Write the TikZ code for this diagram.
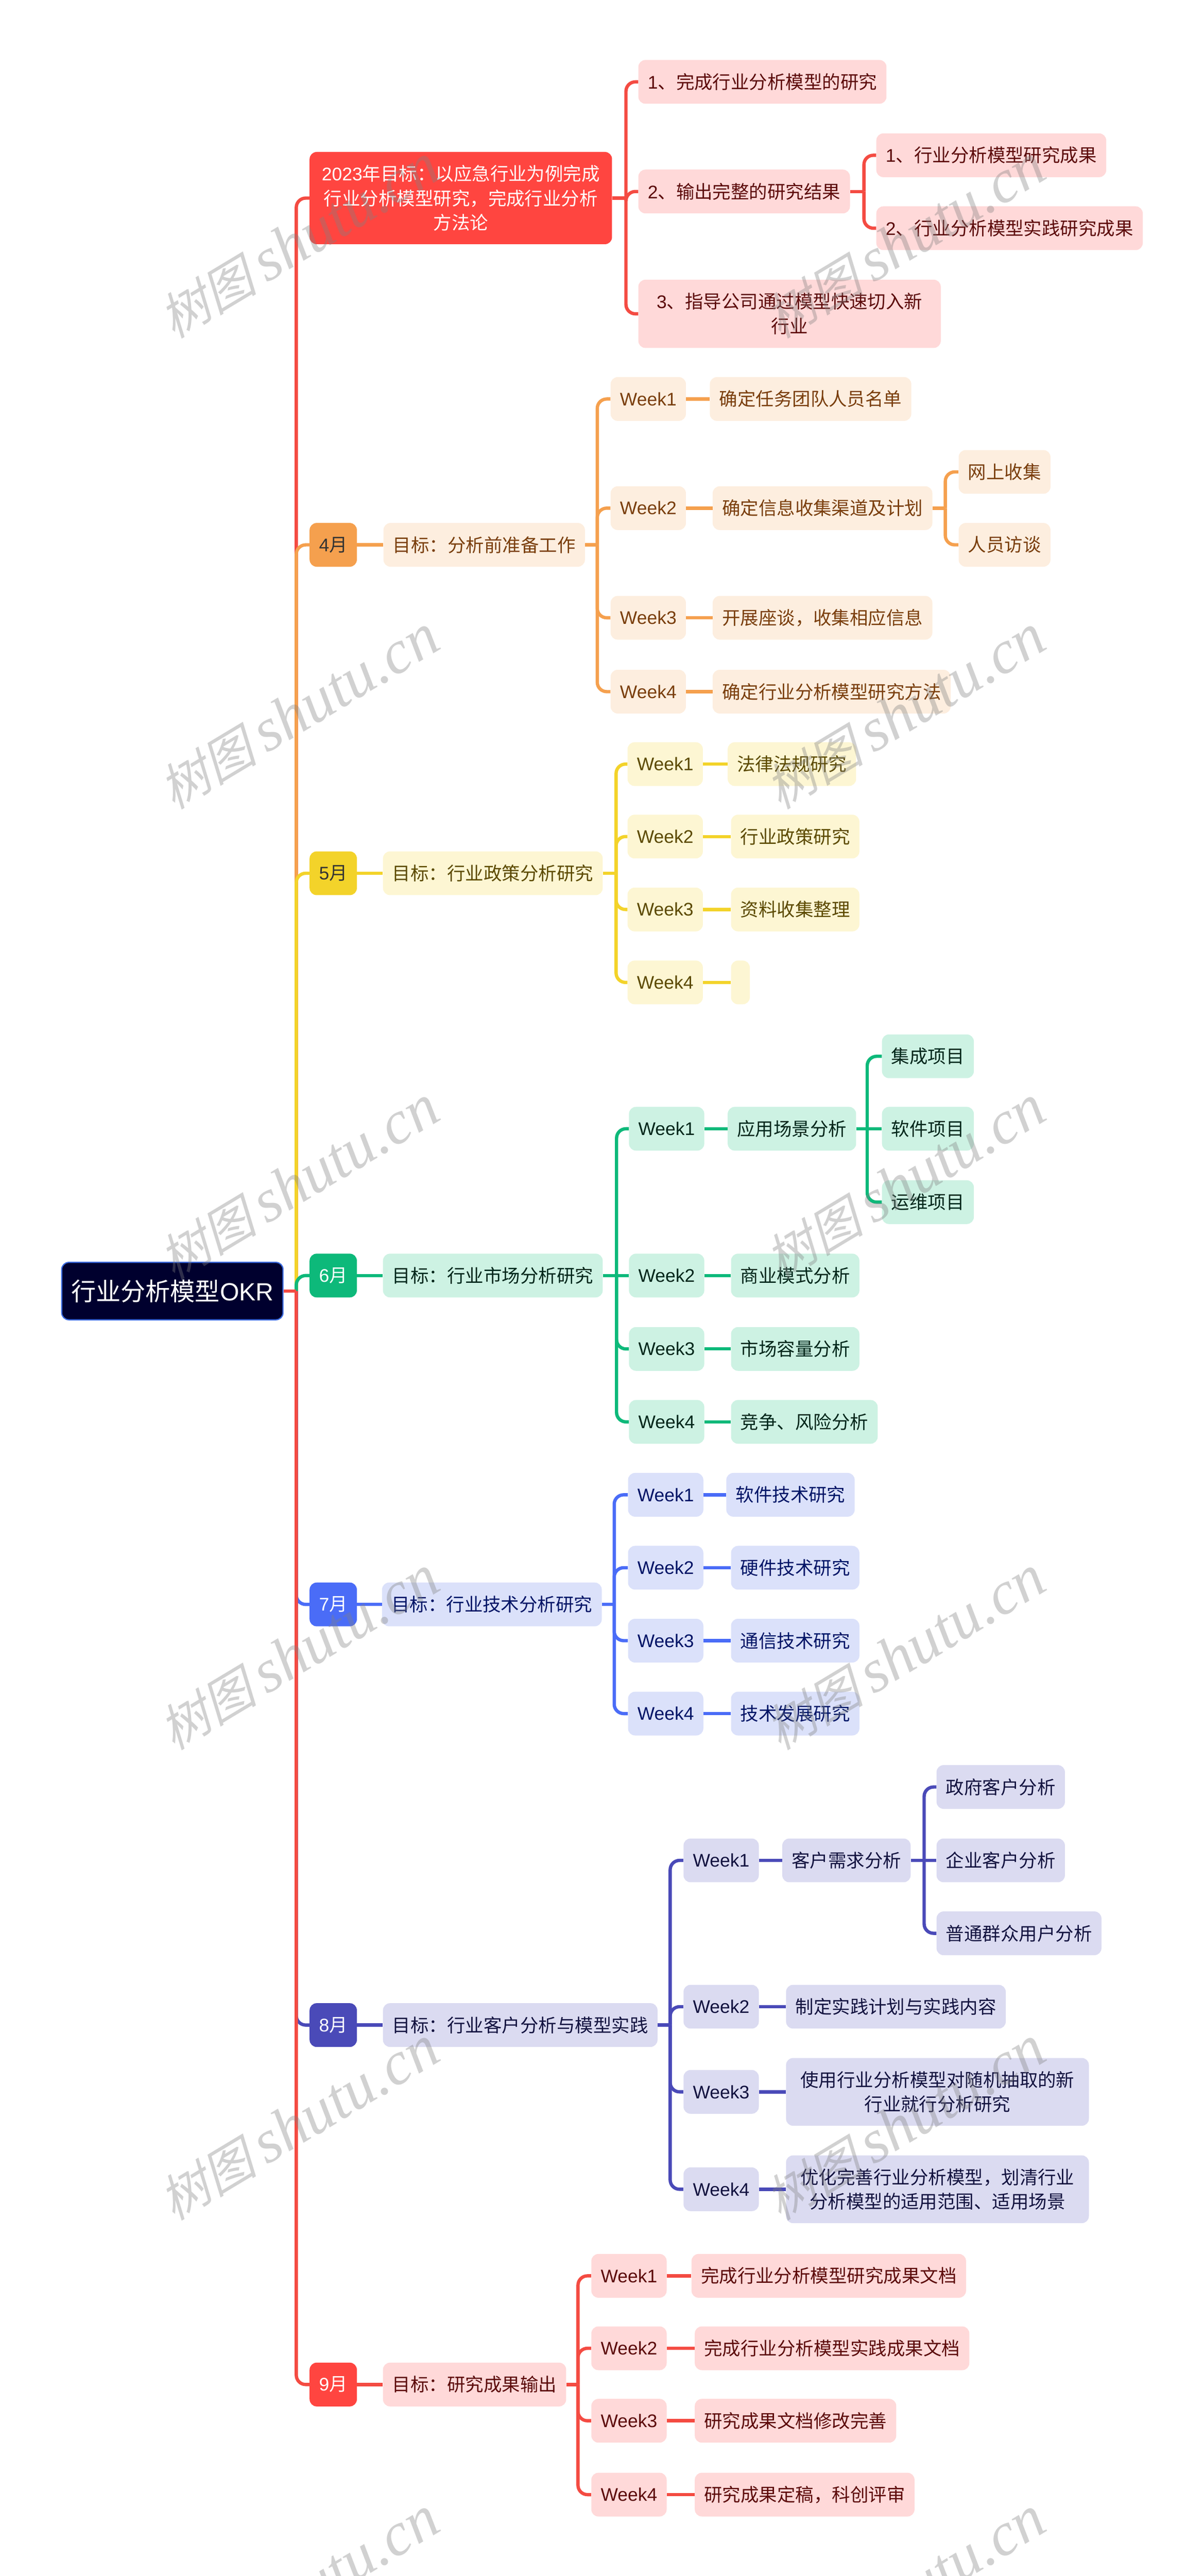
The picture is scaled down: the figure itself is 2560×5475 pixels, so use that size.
\documentclass[tikz,border=0pt]{standalone}
\usepackage{fontspec}
\setmainfont{Noto Sans CJK SC}
\newfontfamily\latfont{Liberation Sans}
\newfontfamily\wmcjk[FakeSlant=0.25]{Noto Sans CJK SC}
\newfontfamily\wmlat{Liberation Serif}[ItalicFont=* Italic]
\newcommand{\lat}[1]{{\latfont #1}}
\newcommand{\wmtext}{{\fontsize{60}{70}\selectfont\wmcjk 树图}\hspace{12pt}{\fontsize{74}{80}\selectfont\wmlat\itshape shutu.cn}}
\definecolor{redln}{HTML}{F44B42}
\definecolor{redfl}{HTML}{FF4540}
\definecolor{redbg}{HTML}{FFD9D9}
\definecolor{redtx}{HTML}{5C0A0A}
\definecolor{orgln}{HTML}{F5A04E}
\definecolor{orgbg}{HTML}{FDEEDF}
\definecolor{orgtx}{HTML}{7A3E0C}
\definecolor{ylwln}{HTML}{F3D32A}
\definecolor{ylwbg}{HTML}{FDF6D3}
\definecolor{ylwtx}{HTML}{5C4A00}
\definecolor{grnln}{HTML}{0DB97A}
\definecolor{grnbg}{HTML}{CDF2E3}
\definecolor{grntx}{HTML}{00261A}
\definecolor{bluln}{HTML}{4A6CF7}
\definecolor{blubg}{HTML}{DBE1FA}
\definecolor{blutx}{HTML}{001466}
\definecolor{indln}{HTML}{4A4AB8}
\definecolor{indbg}{HTML}{DBDBF1}
\definecolor{indtx}{HTML}{12123F}
\definecolor{rootbg}{HTML}{00002E}
\definecolor{rootln}{HTML}{3A6AE0}
\tikzset{
  boxnode/.style={anchor=west,rounded corners=0.3cm,inner xsep=0.4cm,inner ysep=0cm,
    minimum height=1.86cm,align=center,font=\fontsize{22.1}{29.6}\selectfont},
  redbox/.style={boxnode,fill=redbg,text=redtx},
  orgbox/.style={boxnode,fill=orgbg,text=orgtx},
  ylwbox/.style={boxnode,fill=ylwbg,text=ylwtx},
  grnbox/.style={boxnode,fill=grnbg,text=grntx},
  blubox/.style={boxnode,fill=blubg,text=blutx},
  indbox/.style={boxnode,fill=indbg,text=indtx},
  redline/.style={draw=redln,line width=0.14cm},
  orgline/.style={draw=orgln,line width=0.14cm},
  ylwline/.style={draw=ylwln,line width=0.14cm},
  grnline/.style={draw=grnln,line width=0.14cm},
  bluline/.style={draw=bluln,line width=0.14cm},
  indline/.style={draw=indln,line width=0.14cm},
  hook/.style={rounded corners=0.4cm},
  wmark/.style={rotate=31,text=gray,opacity=0.36}
}
\begin{document}
\begin{tikzpicture}[x=0.2mm,y=-0.2mm]
  \useasboundingbox (0,0) rectangle (2560,5475);
  \node[boxnode,fill=rootbg,draw=rootln,line width=0.05cm,text=white,minimum height=2.44cm,
    font=\fontsize{30}{34}\selectfont] (root) at (130,2744) {行业分析模型\lat{OKR}};
  \coordinate (rootj) at (630,2744);
  % red goal
  \node[boxnode,fill=redfl,text=white,minimum height=3.92cm,minimum width=12.86cm] (goal) at (658,421) {\lat{2023}年目标：以应急行业为例完成\\行业分析模型研究，完成行业分析\\方法论};
  \coordinate (goalj) at (1331,421);
  \node[redbox] (goal1) at (1357,174) {\lat{1}、完成行业分析模型的研究};
  \node[redbox] (goal2) at (1357,407) {\lat{2}、输出完整的研究结果};
  \node[redbox] (goal21) at (1863,330) {\lat{1}、行业分析模型研究成果};
  \node[redbox] (goal22) at (1863,485) {\lat{2}、行业分析模型实践研究成果};
  \node[redbox,minimum height=2.9cm,minimum width=12.86cm] (goal3) at (1357,667) {\lat{3}、指导公司通过模型快速切入新\\行业};
  \coordinate (goal2j) at (1837,407);
  % april
  \node[boxnode,fill=orgln,text=black!80] (apr) at (658,1158) {\lat{4}月};
  \node[orgbox] (aprg) at (815,1158) {目标：分析前准备工作};
  \coordinate (aprj) at (1270,1158);
  \node[orgbox] (aprw1) at (1298,848) {\lat{Week1}};
  \node[orgbox] (aprt1) at (1509,848) {确定任务团队人员名单};
  \node[orgbox] (aprw2) at (1298,1080) {\lat{Week2}};
  \node[orgbox] (aprt2) at (1515,1080) {确定信息收集渠道及计划};
  \coordinate (aprt2j) at (2010,1080);
  \node[orgbox] (aprs1) at (2038,1003) {网上收集};
  \node[orgbox] (aprs2) at (2038,1158) {人员访谈};
  \node[orgbox] (aprw3) at (1298,1313) {\lat{Week3}};
  \node[orgbox] (aprt3) at (1515,1313) {开展座谈，收集相应信息};
  \node[orgbox] (aprw4) at (1298,1470) {\lat{Week4}};
  \node[orgbox] (aprt4) at (1515,1470) {确定行业分析模型研究方法};
  % may
  \node[boxnode,fill=ylwln,text=black!80] (may) at (658,1856) {\lat{5}月};
  \node[ylwbox] (mayg) at (814,1856) {目标：行业政策分析研究};
  \coordinate (mayj) at (1310,1856);
  \node[ylwbox] (mayw1) at (1334,1624) {\lat{Week1}};
  \node[ylwbox] (mayt1) at (1547,1624) {法律法规研究};
  \node[ylwbox] (mayw2) at (1334,1778) {\lat{Week2}};
  \node[ylwbox] (mayt2) at (1554,1778) {行业政策研究};
  \node[ylwbox] (mayw3) at (1334,1933) {\lat{Week3}};
  \node[ylwbox] (mayt3) at (1554,1933) {资料收集整理};
  \node[ylwbox] (mayw4) at (1334,2088) {\lat{Week4}};
  \node[ylwbox] (mayt4) at (1554,2088) {};
  % june
  \node[boxnode,fill=grnln,text=white] (jun) at (658,2711) {\lat{6}月};
  \node[grnbox] (jung) at (814,2711) {目标：行业市场分析研究};
  \coordinate (junj) at (1311,2711);
  \node[grnbox] (junw1) at (1337,2399) {\lat{Week1}};
  \node[grnbox] (junt1) at (1547,2399) {应用场景分析};
  \coordinate (junt1j) at (1844,2399);
  \node[grnbox] (juns1) at (1875,2245) {集成项目};
  \node[grnbox] (juns2) at (1875,2399) {软件项目};
  \node[grnbox] (juns3) at (1875,2555) {运维项目};
  \node[grnbox] (junw2) at (1337,2711) {\lat{Week2}};
  \node[grnbox] (junt2) at (1554,2711) {商业模式分析};
  \node[grnbox] (junw3) at (1337,2867) {\lat{Week3}};
  \node[grnbox] (junt3) at (1554,2867) {市场容量分析};
  \node[grnbox] (junw4) at (1337,3022) {\lat{Week4}};
  \node[grnbox] (junt4) at (1554,3022) {竞争、风险分析};
  % july
  \node[boxnode,fill=bluln,text=white] (jul) at (658,3410) {\lat{7}月};
  \node[blubox] (julg) at (812,3410) {目标：行业技术分析研究};
  \coordinate (julj) at (1306,3410);
  \node[blubox] (julw1) at (1335,3177) {\lat{Week1}};
  \node[blubox] (jult1) at (1544,3177) {软件技术研究};
  \node[blubox] (julw2) at (1335,3332) {\lat{Week2}};
  \node[blubox] (jult2) at (1554,3332) {硬件技术研究};
  \node[blubox] (julw3) at (1335,3487) {\lat{Week3}};
  \node[blubox] (jult3) at (1554,3487) {通信技术研究};
  \node[blubox] (julw4) at (1335,3642) {\lat{Week4}};
  \node[blubox] (jult4) at (1554,3642) {技术发展研究};
  % august
  \node[boxnode,fill=indln,text=white] (aug) at (658,4304) {\lat{8}月};
  \node[indbox] (augg) at (814,4304) {目标：行业客户分析与模型实践};
  \coordinate (augj) at (1425,4304);
  \node[indbox] (augw1) at (1453,3954) {\lat{Week1}};
  \node[indbox] (augt1) at (1663,3954) {客户需求分析};
  \coordinate (augt1j) at (1965,3954);
  \node[indbox] (augs1) at (1991,3798) {政府客户分析};
  \node[indbox] (augs2) at (1991,3954) {企业客户分析};
  \node[indbox] (augs3) at (1991,4109) {普通群众用户分析};
  \node[indbox] (augw2) at (1453,4265) {\lat{Week2}};
  \node[indbox] (augt2) at (1671,4265) {制定实践计划与实践内容};
  \node[indbox] (augw3) at (1453,4446) {\lat{Week3}};
  \node[indbox,minimum height=2.88cm,minimum width=12.88cm] (augt3) at (1671,4446) {使用行业分析模型对随机抽取的新\\行业就行分析研究};
  \node[indbox] (augw4) at (1453,4653) {\lat{Week4}};
  \node[indbox,minimum height=2.88cm,minimum width=12.88cm] (augt4) at (1671,4653) {优化完善行业分析模型，划清行业\\分析模型的适用范围、适用场景};
  % september
  \node[boxnode,fill=redfl,text=white] (sep) at (658,5068) {\lat{9}月};
  \node[redbox] (sepg) at (814,5068) {目标：研究成果输出};
  \coordinate (sepj) at (1229,5068);
  \node[redbox] (sepw1) at (1257,4837) {\lat{Week1}};
  \node[redbox] (sept1) at (1470,4837) {完成行业分析模型研究成果文档};
  \node[redbox] (sepw2) at (1257,4991) {\lat{Week2}};
  \node[redbox] (sept2) at (1477,4991) {完成行业分析模型实践成果文档};
  \node[redbox] (sepw3) at (1257,5145) {\lat{Week3}};
  \node[redbox] (sept3) at (1477,5145) {研究成果文档修改完善};
  \node[redbox] (sepw4) at (1257,5302) {\lat{Week4}};
  \node[redbox] (sept4) at (1477,5302) {研究成果定稿，科创评审};
  % connectors
  \draw[redline,hook] (rootj) |- (goal.west);
  \draw[orgline,hook] (rootj) |- (apr.west);
  \draw[ylwline,hook] (rootj) |- (may.west);
  \draw[grnline,hook] (rootj) |- (jun.west);
  \draw[bluline,hook] (rootj) |- (jul.west);
  \draw[indline,hook] (rootj) |- (aug.west);
  \draw[redline,hook] (rootj) |- (sep.west);
  \draw[redline] (root.east) -- (rootj);
  \draw[redline] (goal.east) -- (goalj);
  \draw[redline,hook] (goalj) |- (goal1.west);
  \draw[redline,hook] (goalj) |- (goal2.west);
  \draw[redline,hook] (goalj) |- (goal3.west);
  \draw[redline] (goal2.east) -- (goal2j);
  \draw[redline,hook] (goal2j) |- (goal21.west);
  \draw[redline,hook] (goal2j) |- (goal22.west);
  \draw[orgline] (apr.east) -- (aprg.west);
  \draw[orgline] (aprg.east) -- (aprj);
  \draw[orgline,hook] (aprj) |- (aprw1.west);
  \draw[orgline,hook] (aprj) |- (aprw2.west);
  \draw[orgline,hook] (aprj) |- (aprw3.west);
  \draw[orgline,hook] (aprj) |- (aprw4.west);
  \draw[orgline] (aprw1) -- (aprt1);
  \draw[orgline] (aprw2) -- (aprt2);
  \draw[orgline] (aprw3) -- (aprt3);
  \draw[orgline] (aprw4) -- (aprt4);
  \draw[orgline] (aprt2.east) -- (aprt2j);
  \draw[orgline,hook] (aprt2j) |- (aprs1.west);
  \draw[orgline,hook] (aprt2j) |- (aprs2.west);
  \draw[ylwline] (may.east) -- (mayg.west);
  \draw[ylwline] (mayg.east) -- (mayj);
  \draw[ylwline,hook] (mayj) |- (mayw1.west);
  \draw[ylwline,hook] (mayj) |- (mayw2.west);
  \draw[ylwline,hook] (mayj) |- (mayw3.west);
  \draw[ylwline,hook] (mayj) |- (mayw4.west);
  \draw[ylwline] (mayw1) -- (mayt1);
  \draw[ylwline] (mayw2) -- (mayt2);
  \draw[ylwline] (mayw3) -- (mayt3);
  \draw[ylwline] (mayw4) -- (mayt4);
  \draw[grnline] (jun.east) -- (jung.west);
  \draw[grnline] (jung.east) -- (junj);
  \draw[grnline,hook] (junj) |- (junw1.west);
  \draw[grnline] (junj) -- (junw2.west);
  \draw[grnline,hook] (junj) |- (junw3.west);
  \draw[grnline,hook] (junj) |- (junw4.west);
  \draw[grnline] (junw1) -- (junt1);
  \draw[grnline] (junw2) -- (junt2);
  \draw[grnline] (junw3) -- (junt3);
  \draw[grnline] (junw4) -- (junt4);
  \draw[grnline] (junt1.east) -- (junt1j);
  \draw[grnline,hook] (junt1j) |- (juns1.west);
  \draw[grnline] (junt1j) -- (juns2.west);
  \draw[grnline,hook] (junt1j) |- (juns3.west);
  \draw[bluline] (jul.east) -- (julg.west);
  \draw[bluline] (julg.east) -- (julj);
  \draw[bluline,hook] (julj) |- (julw1.west);
  \draw[bluline,hook] (julj) |- (julw2.west);
  \draw[bluline,hook] (julj) |- (julw3.west);
  \draw[bluline,hook] (julj) |- (julw4.west);
  \draw[bluline] (julw1) -- (jult1);
  \draw[bluline] (julw2) -- (jult2);
  \draw[bluline] (julw3) -- (jult3);
  \draw[bluline] (julw4) -- (jult4);
  \draw[indline] (aug.east) -- (augg.west);
  \draw[indline] (augg.east) -- (augj);
  \draw[indline,hook] (augj) |- (augw1.west);
  \draw[indline,hook] (augj) |- (augw2.west);
  \draw[indline,hook] (augj) |- (augw3.west);
  \draw[indline,hook] (augj) |- (augw4.west);
  \draw[indline] (augw1) -- (augt1);
  \draw[indline] (augw2) -- (augt2);
  \draw[indline] (augw3) -- (augt3);
  \draw[indline] (augw4) -- (augt4);
  \draw[indline] (augt1.east) -- (augs2.west);
  \draw[indline,hook] (augt1j) |- (augs1.west);
  \draw[indline,hook] (augt1j) |- (augs3.west);
  \draw[redline] (sep.east) -- (sepg.west);
  \draw[redline] (sepg.east) -- (sepj);
  \draw[redline,hook] (sepj) |- (sepw1.west);
  \draw[redline,hook] (sepj) |- (sepw2.west);
  \draw[redline,hook] (sepj) |- (sepw3.west);
  \draw[redline,hook] (sepj) |- (sepw4.west);
  \draw[redline] (sepw1) -- (sept1);
  \draw[redline] (sepw2) -- (sept2);
  \draw[redline] (sepw3) -- (sept3);
  \draw[redline] (sepw4) -- (sept4);
  % watermark
  \node[wmark] (wm1) at (635,514) {\wmtext};
  \node[wmark] (wm2) at (1924,514) {\wmtext};
  \node[wmark] (wm3) at (635,1514) {\wmtext};
  \node[wmark] (wm4) at (1924,1514) {\wmtext};
  \node[wmark] (wm5) at (635,2514) {\wmtext};
  \node[wmark] (wm6) at (1924,2514) {\wmtext};
  \node[wmark] (wm7) at (635,3514) {\wmtext};
  \node[wmark] (wm8) at (1924,3514) {\wmtext};
  \node[wmark] (wm9) at (635,4514) {\wmtext};
  \node[wmark] (wm10) at (1924,4514) {\wmtext};
  \node[wmark] (wm11) at (635,5514) {\wmtext};
  \node[wmark] (wm12) at (1924,5514) {\wmtext};
\end{tikzpicture}
\end{document}
